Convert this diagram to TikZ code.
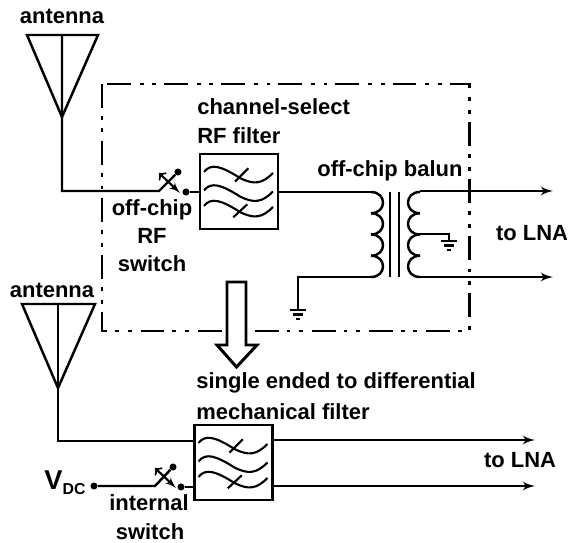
\documentclass[tikz,border=0pt]{standalone}
\usepackage{fontspec}
\setmainfont{Liberation Sans}
\usetikzlibrary{arrows,shapes,positioning}
\tikzstyle{wire} = [draw, line width=1.4pt]
\tikzstyle{thin wire} = [draw, line width=1.2pt]
\tikzstyle{line} = [draw, line width=1.4pt, -latex']
\tikzstyle{filterbox} = [rectangle, draw, line width=1.6pt, inner sep=0pt,
    minimum width=1.56cm, minimum height=1.5cm]
\tikzstyle{label} = [font=\fontsize{12.5}{14}\selectfont\bfseries, inner sep=0pt]
\tikzstyle{chipedge} = [draw, line width=1.7pt,
    dash pattern=on 13.6pt off 4.5pt on 2.2pt off 5pt on 2.2pt off 5pt]
\tikzstyle{contact} = [circle, fill, inner sep=0pt, minimum size=4pt]
\newcommand{\wavecurve}[1]{
    \draw[thin wire] (-35,#1) .. controls (-28,#1-9) and (-18,#1-6) .. (1,#1+6)
        .. controls (15,#1+13) and (23,#1+12) .. (34,#1+1);
}
\newcommand{\filterwaves}[2]{
    \begin{scope}[shift={(#1,#2)}]
    \wavecurve{-19.5}
    \wavecurve{-1}
    \wavecurve{14.5}
    \draw[thin wire] (-4,-9.8) -- (9.3,-23.2);
    \draw[thin wire] (-5.7,25.8) -- (8.3,12.8);
    \end{scope}
}
\newcommand{\switchblade}[2]{
    \draw[to-latex', line width=1.2pt] (#1,#2-18) -- (#1+21,#2+2);
}
\begin{document}
\begin{tikzpicture}[x=0.02cm, y=-0.02cm]
    \useasboundingbox (0,0) rectangle (570,543);
    % upper part
    \coordinate (ant1top) at (62,35);
    \coordinate (ant1left) at (27,35);
    \coordinate (ant1right) at (98,35);
    \coordinate (ant1tip) at (62,117);
    \coordinate (ant1bend) at (62,191);
    \coordinate (sw1in) at (159,191);
    \node [contact] (sw1pivot) at (178,172) {};
    \node [contact] (sw1out) at (186,192) {};
    \node [filterbox] (filter1) at (239,191.5) {};
    \filterwaves{239}{191.5}
    \switchblade{159}{191}
    \coordinate (pritop) at (371,192);
    \coordinate (pribot) at (371,277);
    \coordinate (pribend) at (298,277);
    \coordinate (gnd1) at (298,310);
    \coordinate (sectop) at (420,191);
    \coordinate (secbot) at (420,277);
    \coordinate (sectap) at (420,234);
    \coordinate (tapbend) at (449,234);
    \coordinate (gnd2) at (449,241);
    \coordinate (out1) at (553,191);
    \coordinate (out2) at (553,277);
    \path [chipedge] (102,84) rectangle (469,331);
    \draw [wire] (ant1left) -- (ant1right) -- (ant1tip) -- cycle;
    \path [wire] (ant1top) -- (ant1bend) -- (sw1in) -- (sw1pivot);
    \path [wire] (sw1out) -- (filter1.west |- sw1out);
    \path [wire] (filter1.east |- pritop) -- (pritop);
    \foreach \y in {192,213.25,234.5,255.75}{
        \draw [wire] (371,\y) .. controls +(16,0) and +(16,0) .. +(0,21.25);
        \draw [wire] (420,\y) .. controls +(-16,0) and +(-16,0) .. +(0,21.25);
    }
    \draw [wire] (390,192) -- (390,277);
    \draw [wire] (399,192) -- (399,277);
    \path [wire] (pribot) -- (pribend) -- (gnd1);
    \path [wire] (sectap) -- (tapbend) -- (gnd2);
    \path [line] (sectop) -- (out1);
    \path [line] (secbot) -- (out2);
    \foreach \x/\y in {298/310,449/241}{
        \draw [thin wire] (\x-8,\y) -- (\x+8,\y);
        \draw [thin wire] (\x-5,\y+4.5) -- (\x+5,\y+4.5);
        \draw [thin wire] (\x-2,\y+9) -- (\x+2,\y+9);
    }
    % hollow arrow
    \draw [line width=1.7pt, fill=white] (227,282) -- (246,282) -- (246,345) -- (257,345)
        -- (236.5,367) -- (217,345) -- (227,345) -- cycle;
    % lower part
    \coordinate (ant2top) at (58,304);
    \coordinate (ant2left) at (22,304);
    \coordinate (ant2right) at (95,304);
    \coordinate (ant2tip) at (58,388);
    \coordinate (ant2bend) at (58,441);
    \node [filterbox] (filter2) at (233.5,462.5) {};
    \filterwaves{233.5}{462.5}
    \node [contact] (vdc) at (94,486) {};
    \coordinate (sw2in) at (155,486);
    \node [contact] (sw2pivot) at (173,467) {};
    \node [contact] (sw2out) at (181,487) {};
    \switchblade{155}{486}
    \coordinate (out3) at (535,440);
    \coordinate (out4) at (535,486);
    \draw [wire] (ant2left) -- (ant2right) -- (ant2tip) -- cycle;
    \path [wire] (ant2top) -- (ant2bend) -- (filter2.west |- ant2bend);
    \path [wire] (vdc) -- (sw2in) -- (sw2pivot);
    \path [wire] (sw2out) -- (filter2.west |- sw2out);
    \path [line] (filter2.east |- out3) -- (out3);
    \path [line] (filter2.east |- out4) -- (out4);
    % labels
    \node [label] (antlabel1) at (62,16) {antenna};
    \node [label] (antlabel2) at (52,290) {antenna};
    \node [label, anchor=west] (chanlabel) at (197,107) {channel-select};
    \node [label, anchor=west] (rflabel) at (197,136) {RF filter};
    \node [label, anchor=west] (balunlabel) at (317,171) {off-chip balun};
    \node [label] (swlabel1) at (152,210) {off-chip};
    \node [label] (swlabel2) at (152,236) {RF};
    \node [label] (swlabel3) at (152,264) {switch};
    \node [label] (lnalabel1) at (532,233) {to LNA};
    \node [label, anchor=west] (singlelabel) at (196,383) {single ended to differential};
    \node [label, anchor=west] (mechlabel) at (196,412) {mechanical filter};
    \node [label] (lnalabel2) at (520,460) {to LNA};
    \node [label] (vdclabel) at (65,483) {\fontsize{15.5}{16}\selectfont V\raisebox{-3pt}{\fontsize{9}{10}\selectfont DC}};
    \node [label] (intlabel1) at (149,503) {internal};
    \node [label] (intlabel2) at (150,532) {switch};
\end{tikzpicture}
\end{document}
